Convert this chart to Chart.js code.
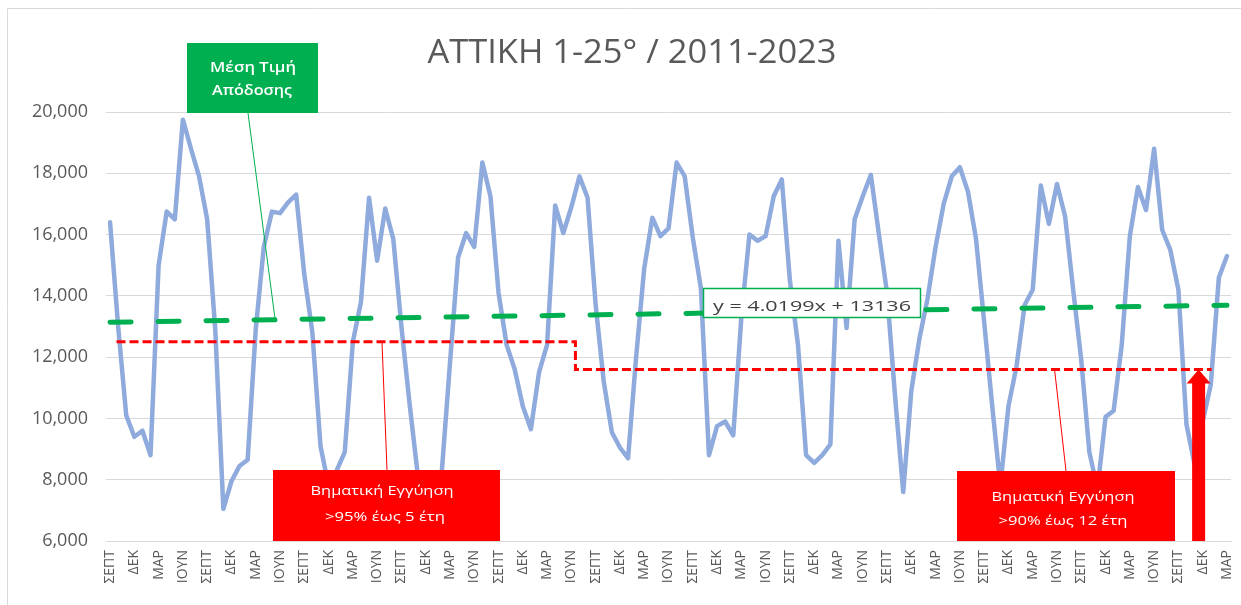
<!DOCTYPE html>
<html><head><meta charset="utf-8">
<script src="https://cdn.jsdelivr.net/npm/chart.js@4.4.1/dist/chart.umd.min.js"></script>
<style>html,body{margin:0;padding:0;background:#fff;overflow:hidden}canvas{display:block}</style>
</head><body>
<canvas id="c" width="1241" height="605"></canvas>
<script>
// ---- data ----
const titleText = 'ΑΤΤΙΚΗ 1-25° / 2011-2023';
const monthNames = ['ΣΕΠΤ','ΟΚΤ','ΝΟΕ','ΔΕΚ','ΙΑΝ','ΦΕΒ','ΜΑΡ','ΑΠΡ','ΜΑΪ','ΙΟΥΝ','ΙΟΥΛ','ΑΥΓ'];
const yields = [
16400,13000,10100,9400,9600,8800,15000,16750,16500,19750,
18800,17900,16500,12900,7050,7950,8450,8650,12900,15600,
16750,16700,17050,17300,14700,12800,9100,7800,8300,8900,
12500,13800,17200,15150,16850,15850,13000,10500,8200,7500,
7700,8300,11800,15250,16050,15600,18350,17250,14100,12400,
11600,10400,9650,11500,12400,16950,16050,16900,17900,17200,
13700,11200,9550,9050,8700,12000,14900,16550,15950,16200,
18350,17900,15900,14250,8800,9750,9900,9450,13300,16000,
15800,15950,17250,17800,14500,12400,8800,8550,8800,9150,
15800,12950,16500,17250,17950,16000,14100,10700,7600,10900,
12600,13900,15600,17000,17900,18200,17400,15850,13150,10400,
7800,10400,11700,13700,14200,17600,16350,17650,16600,14200,
11900,8900,7700,10050,10250,12400,15950,17550,16800,18800,
16150,15500,14200,9800,8500,9900,11100,14600,15300
];
const categories = yields.map((_, i) => monthNames[i % 12]);
const yTicks = [6000, 8000, 10000, 12000, 14000, 16000, 18000, 20000];
// step guarantee line (month index, value)
const guaranteeX = [0.8, 57.5, 57.5, 136.1];
const guaranteeY = [12500, 12500, 11600, 11600];
// linear trend shown on chart: y = 4.0199x + 13136
const trendSlope = 4.0199;
const trendIntercept = 13136;
const trendX = [0, 138];
const trendLabel = 'y = 4.0199x + 13136';
// arrow marking the guarantee level
const arrowAt = 134.5;
const arrowFrom = 6000;
const arrowTo = 11600;
const noteMean = ['Μέση Τιμή', 'Απόδοσης'];
const noteStep1 = ['Βηματική Εγγύηση', '>95% έως 5 έτη'];
const noteStep2 = ['Βηματική Εγγύηση', '>90% έως 12 έτη'];
const pointerMeanAt = 20.4;
const pointerStep1At = 33.6;
const pointerStep2At = 116.7;

function fitText(ctx, text, cx, baseY, font, w, color) {
  ctx.save();
  ctx.font = font; ctx.fillStyle = color;
  ctx.textAlign = 'center'; ctx.textBaseline = 'alphabetic';
  const m = ctx.measureText(text).width;
  ctx.translate(cx, baseY);
  ctx.scale(w / m, 1);
  ctx.fillText(text, 0, 0);
  ctx.restore();
}
const trendAt = x => trendIntercept + trendSlope * (x + 1);

const annot = {
  id: 'annot',
  beforeDraw(chart) {
    const ctx = chart.ctx;
    ctx.save();
    ctx.fillStyle = '#fff';
    ctx.fillRect(0, 0, chart.width, chart.height);
    ctx.strokeStyle = '#D9D9D9'; ctx.lineWidth = 1;
    ctx.beginPath(); ctx.moveTo(7.5, 605); ctx.lineTo(7.5, 8.5); ctx.lineTo(1241, 8.5); ctx.stroke();
    ctx.restore();
    fitText(ctx, titleText, 632, 63, '32px "Open Sans"', 409, '#595959');
  },
  afterDatasetsDraw(chart) {
    const ctx = chart.ctx, xs = chart.scales.x, ys = chart.scales.y;
    ctx.save();
    // pointer lines
    ctx.lineWidth = 1;
    ctx.strokeStyle = '#00B050';
    ctx.beginPath(); ctx.moveTo(248, 113);
    ctx.lineTo(xs.getPixelForValue(pointerMeanAt), ys.getPixelForValue(trendAt(pointerMeanAt))); ctx.stroke();
    ctx.strokeStyle = '#FF0000';
    ctx.beginPath(); ctx.moveTo(xs.getPixelForValue(pointerStep1At), ys.getPixelForValue(guaranteeY[0]));
    ctx.lineTo(387, 470); ctx.stroke();
    ctx.beginPath(); ctx.moveTo(xs.getPixelForValue(pointerStep2At), ys.getPixelForValue(guaranteeY[3]));
    ctx.lineTo(1066, 471); ctx.stroke();
    // green note
    ctx.fillStyle = '#00B050';
    ctx.fillRect(187, 43, 131, 70);
    // red notes
    ctx.fillStyle = '#FF0000';
    ctx.fillRect(273, 470, 227, 71);
    ctx.fillRect(957, 471, 218, 70);
    // equation box
    ctx.fillStyle = '#fff';
    ctx.fillRect(703, 288, 218, 30);
    ctx.strokeStyle = '#00B050'; ctx.lineWidth = 1.5;
    ctx.strokeRect(703.5, 288.5, 217, 29);
    // arrow
    const cx = xs.getPixelForValue(arrowAt);
    const y0 = ys.getPixelForValue(arrowFrom);
    const tip = ys.getPixelForValue(arrowTo);
    ctx.fillStyle = '#FF0000';
    ctx.fillRect(cx - 6.5, tip + 13, 13, y0 - tip - 13);
    ctx.beginPath(); ctx.moveTo(cx - 12, tip + 14); ctx.lineTo(cx + 12, tip + 14); ctx.lineTo(cx, tip); ctx.closePath(); ctx.fill();
    ctx.restore();
    fitText(ctx, trendLabel, 812, 311, '15px "Open Sans"', 198, '#404040');
    fitText(ctx, noteMean[0], 253, 72, '600 15px "Open Sans"', 86, '#FFFFFF');
    fitText(ctx, noteMean[1], 252, 95, '600 15px "Open Sans"', 80, '#FFFFFF');
    fitText(ctx, noteStep1[0], 382, 495, '12px "Open Sans"', 143, '#FFFFFF');
    fitText(ctx, noteStep1[1], 385, 521, '12px "Open Sans"', 120, '#FFFFFF');
    fitText(ctx, noteStep2[0], 1063, 501, '12px "Open Sans"', 143, '#FFFFFF');
    fitText(ctx, noteStep2[1], 1063, 525, '12px "Open Sans"', 129, '#FFFFFF');
  }
};

new Chart(document.getElementById('c').getContext('2d'), {
  type: 'line',
  data: {
    datasets: [
      { label: 'Απόδοση', data: yields.map((v, i) => ({ x: i, y: v })), borderColor: '#8FAADC', borderWidth: 4.5,
        pointRadius: 0, tension: 0, order: 3, borderJoinStyle: 'round', borderCapStyle: 'round' },
      { label: 'Εγγύηση', data: guaranteeX.map((x, i) => ({ x, y: guaranteeY[i] })), borderColor: '#FF0000', borderWidth: 3,
        borderDash: [9, 4], pointRadius: 0, tension: 0, order: 2 },
      { label: 'Τάση', data: trendX.map(x => ({ x, y: trendAt(x) })), borderColor: '#00B050', borderWidth: 5,
        borderDash: [21, 27], borderCapStyle: 'round', pointRadius: 0, tension: 0, order: 1 }
    ]
  },
  options: {
    responsive: false, animation: false, devicePixelRatio: 1,
    layout: { padding: { top: 112, right: 10, bottom: 0, left: 0 } },
    plugins: { legend: { display: false }, tooltip: { enabled: false }, title: { display: false } },
    scales: {
      x: {
        type: 'linear', min: -0.5, max: 138.5,
        grid: { display: false, drawTicks: false },
        border: { display: true, color: '#D9D9D9' },
        afterBuildTicks: s => { s.ticks = []; for (let i = 0; i < categories.length; i += 3) s.ticks.push({ value: i }); },
        ticks: { autoSkip: false, minRotation: 90, maxRotation: 90, padding: 9, color: '#595959',
          font: { family: '"Open Sans"', size: 14 }, callback: v => categories[v] },
        afterFit: s => { s.height = 64; s.paddingLeft = s.paddingRight = s.paddingTop = s.paddingBottom = 0; }
      },
      y: {
        min: yTicks[0], max: yTicks[yTicks.length - 1],
        afterBuildTicks: s => { s.ticks = yTicks.map(v => ({ value: v })); },
        ticks: { padding: 18, color: '#595959', font: { family: '"Open Sans"', size: 18 },
          callback: v => v.toLocaleString('en-US') },
        grid: { color: '#D9D9D9', drawTicks: false },
        border: { display: false },
        afterFit: s => { s.width = 106; s.paddingTop = s.paddingBottom = 0; }
      }
    }
  },
  plugins: [annot]
});
</script>
</body></html>
